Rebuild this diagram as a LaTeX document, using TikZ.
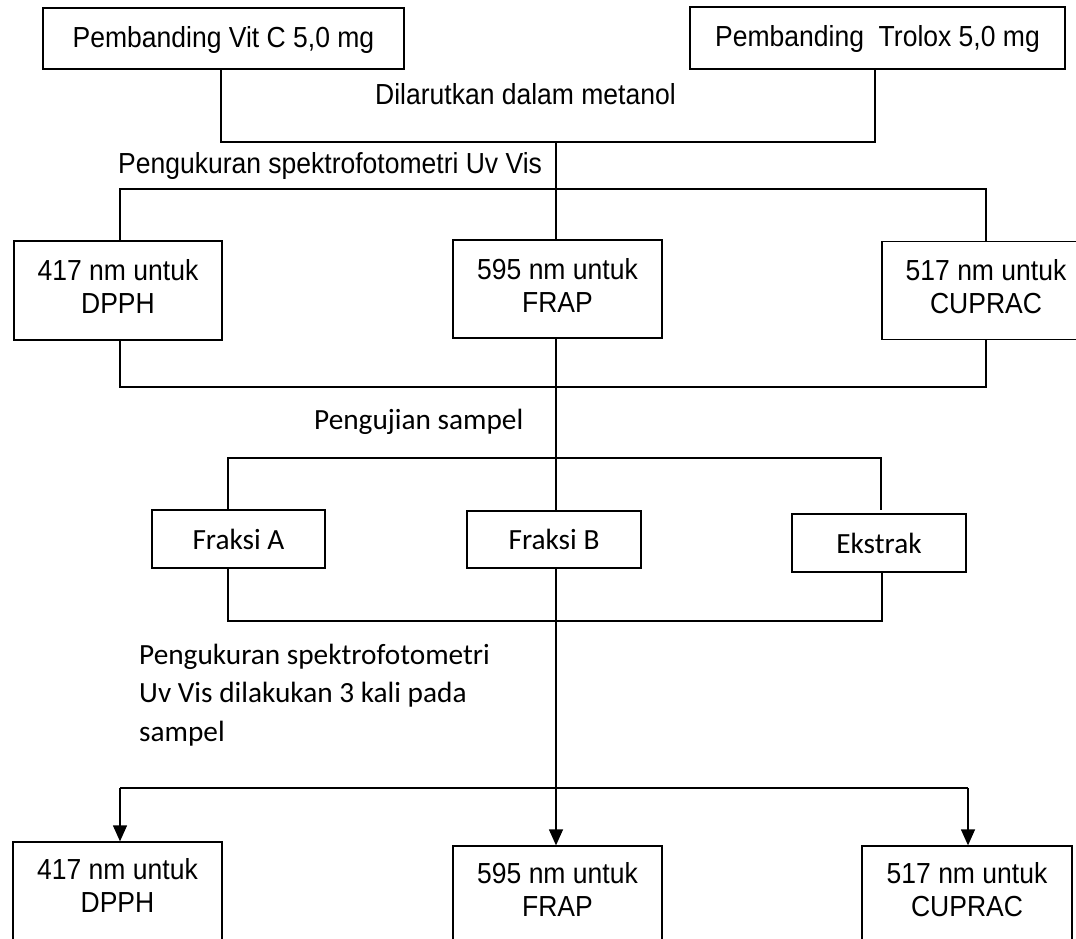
\documentclass[tikz,border=0pt]{standalone}
\usepackage{fontspec}
\setmainfont{Liberation Sans}[FakeStretch=0.914]
\newfontfamily\calibri{Carlito}
\usetikzlibrary{arrows.meta}
\begin{document}
\begin{tikzpicture}[x=1pt,y=-1pt,
  box/.style={draw, line width=1.3pt, inner sep=0pt, align=center, text depth=8pt,
    font=\fontsize{29}{33}\selectfont},
  fbox/.style={draw, line width=1.3pt, inner sep=0pt, align=center,
    font=\calibri\fontsize{29.3}{36}\selectfont},
  note/.style={inner sep=0pt, font=\fontsize{29}{33}\selectfont},
  cnote/.style={inner sep=0pt, font=\calibri\fontsize{29.3}{38.5}\selectfont},
  wire/.style={draw, line width=1.3pt},
  arr/.style={wire, -{Triangle[width=14pt,length=16pt]}}]

\fill[white] (0,0) rectangle (1076,939);
\useasboundingbox (0,0) rectangle (1076,939);
\clip (0,0) rectangle (1076,939);

% standards
\node[box, text depth=4pt, minimum width=361pt, minimum height=61pt] (vitc) at (223.5,38.5) {Pembanding Vit C 5,0 mg};
\node[box, text depth=4pt, minimum width=375pt, minimum height=62pt] (trolox) at (877.5,38) {Pembanding\ \ Trolox 5,0 mg};
\node[note, anchor=base west] (larut) at (375,105) {Dilarutkan dalam metanol};
\node[note, anchor=base west] (ukur1) at (118,173) {Pengukuran spektrofotometri Uv Vis};

% wavelengths for the standards
\node[box, minimum width=208pt, minimum height=99pt] (dpphA) at (118,290.5) {417 nm untuk\\DPPH};
\node[box, minimum width=209pt, minimum height=98pt] (frapA) at (557.5,289) {595 nm untuk\\FRAP};
\node[box, minimum width=208pt, minimum height=98pt] (cupracA) at (986,290.5) {517 nm untuk\\CUPRAC};

\node[cnote, anchor=base west] (uji) at (314,429) {Pengujian sampel};

% samples
\node[fbox, minimum width=173pt, minimum height=58pt] (fa) at (238.5,539) {Fraksi A};
\node[fbox, minimum width=174pt, minimum height=57pt] (fb) at (554,539.5) {Fraksi B};
\node[fbox, minimum width=174pt, minimum height=58pt] (ek) at (879,543) {Ekstrak};

\node[cnote, anchor=base west, align=left] (ukur2) at (139,741)
  {Pengukuran spektrofotometri\\Uv Vis dilakukan 3 kali pada\\sampel};

% wavelengths for the samples
\node[box, text depth=12pt, minimum width=209pt, minimum height=98pt] (dpphB) at (117.5,891) {417 nm untuk\\DPPH};
\node[box, text depth=12pt, minimum width=209pt, minimum height=98pt] (frapB) at (557.5,895) {595 nm untuk\\FRAP};
\node[box, text depth=12pt, minimum width=210pt, minimum height=98pt] (cupracB) at (967,895) {517 nm untuk\\CUPRAC};

% bus junctions
\coordinate (a1) at (221,142); \coordinate (a2) at (556,142); \coordinate (a3) at (875,142);
\coordinate (b1) at (120,189); \coordinate (b2) at (556,189); \coordinate (b3) at (986,189);
\coordinate (c1) at (120,387); \coordinate (c2) at (556,387); \coordinate (c3) at (986,387);
\coordinate (d1) at (228,458); \coordinate (d2) at (556,458); \coordinate (d3) at (881,458);
\coordinate (d3end) at (881,510);
\coordinate (e1) at (228,621); \coordinate (e3) at (882,621);
\coordinate (f1) at (120,788); \coordinate (f2) at (556,788); \coordinate (f3) at (968,788);

% connectors
\draw[wire] (a1 |- vitc.south) -- (a1) -- (a3) -- (a3 |- trolox.south);
\draw[wire] (a2) -- (b2);
\draw[wire] (b1 |- dpphA.north) -- (b1) -- (b3) -- (b3 |- cupracA.north);
\draw[wire] (b2) -- (b2 |- frapA.north);
\draw[wire] (c1 |- dpphA.south) -- (c1) -- (c3) -- (c3 |- cupracA.south);
\draw[wire] (c2 |- frapA.south) -- (d2);
\draw[wire] (d1 |- fa.north) -- (d1) -- (d3) -- (d3end);
\draw[wire] (d2) -- (d2 |- fb.north);
\draw[wire] (e1 |- fa.south) -- (e1) -- (e3) -- (e3 |- ek.south);
\draw[arr] (d2 |- fb.south) -- (f2 |- frapB.north);
\draw[wire] (f1) -- (f3);
\draw[arr] (f1) -- (f1 |- dpphB.north);
\draw[arr] (f3) -- (f3 |- cupracB.north);
\end{tikzpicture}
\end{document}
